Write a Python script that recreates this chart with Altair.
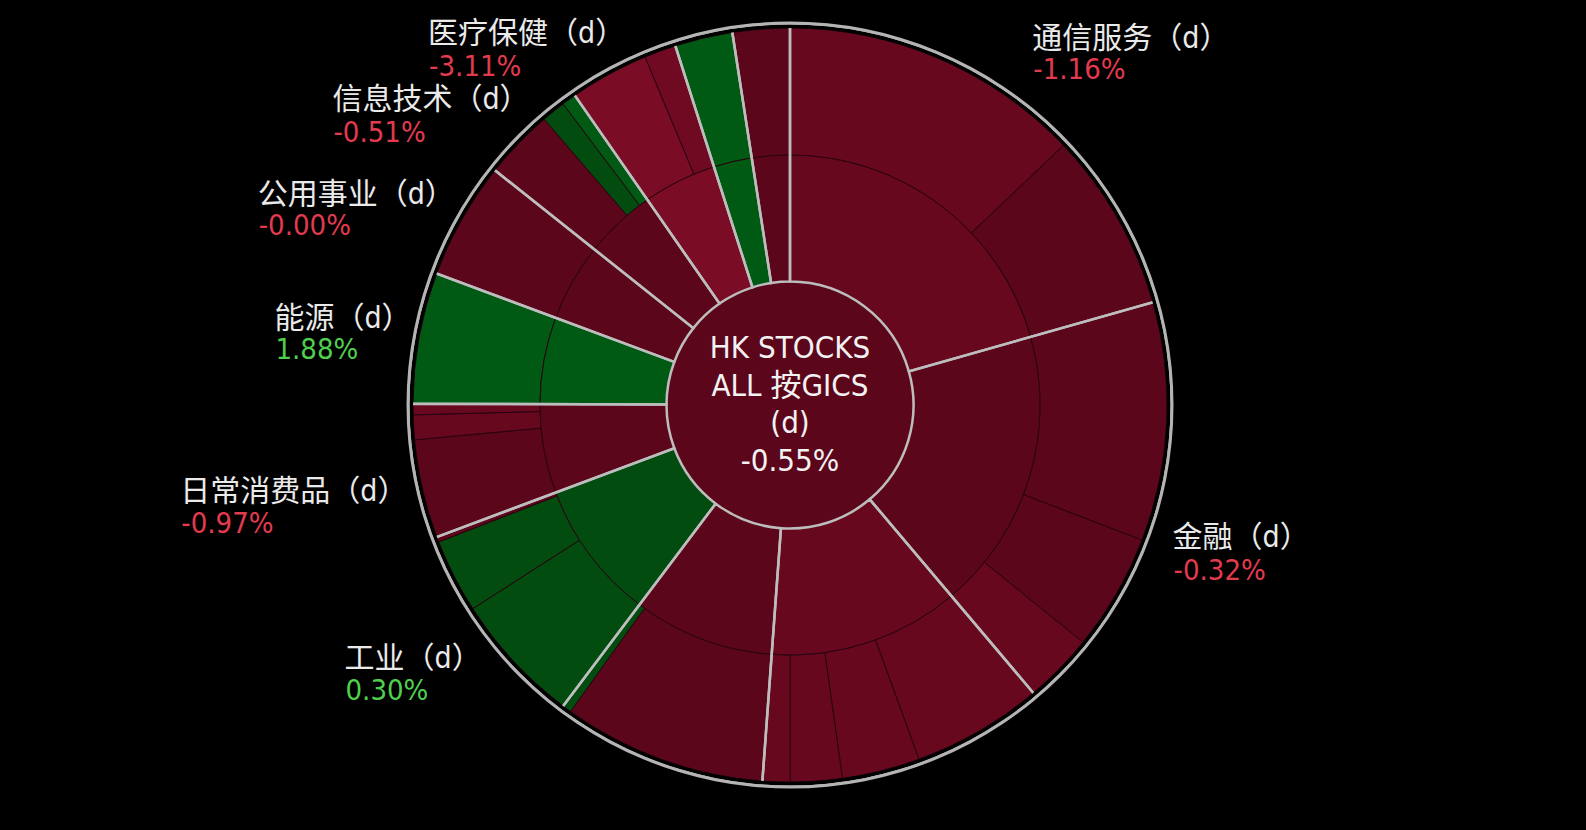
import math
import altair as alt
import pandas as pd

# ---------------- data ----------------
SECTORS = ["通信服务", "金融", "非必需消费品", "地产建筑", "工业", "日常消费品",
           "能源", "公用事业", "信息技术", "医疗保健", "原材料", "综合企业"]
SECTOR_CHG = [-1.16, -0.32, -1.05, -0.60, 0.30, -0.97, 1.88, -0.004, -0.51, -3.11, 2.50, -0.70]

CHILD_SECTOR = ["通信服务", "通信服务",
                "金融", "金融", "金融",
                "非必需消费品", "非必需消费品", "非必需消费品", "非必需消费品",
                "地产建筑", "地产建筑",
                "工业", "工业", "工业",
                "日常消费品", "日常消费品", "日常消费品",
                "能源", "公用事业",
                "信息技术", "信息技术", "信息技术",
                "医疗保健", "医疗保健",
                "原材料", "综合企业"]
CHILD_WEIGHT = [46.5, 27.7,
                36.8, 18.0, 10.8,
                20.2, 12.0, 8.0, 4.2,
                31.4, 1.4,
                20.3, 11.4, 0.8,
                15.2, 3.8, 1.7,
                20.2, 18.1,
                10.8, 3.7, 2.2,
                12.2, 4.9,
                8.9, 8.8]
CHILD_CHG = [-1.30, -0.90,
             -0.30, -0.60, -1.10,
             -1.40, -1.20, -1.10, -1.10,
             -0.60, 0.50,
             0.20, 0.60, -0.20,
             -0.90, -1.20, -1.30,
             1.88, -0.004,
             -0.70, 0.50, 1.20,
             -3.50, -2.00,
             2.50, -0.70]

LABELED = ["通信服务", "金融", "工业", "日常消费品", "能源", "公用事业", "信息技术", "医疗保健"]
TOTAL_TITLE = ["HK STOCKS", "ALL 按GICS", "(d)"]
TOTAL_CHG = -0.55

# ---------------- layout / style ----------------
CENTER_R = 123.5
RING1_R = 250
RING2_R = 377
LABEL_R = 400
# offsets of label text (left edge / line centre) from the polar anchor
LABEL_OFFSET = {
    "通信服务": (1, -47, -16),
    "金融": (0, 16, 49),
    "工业": (-125, 15, 47),
    "日常消费品": (-216, 17, 49),
    "能源": (-122, -14, 17),
    "公用事业": (-184, -13, 18),
    "信息技术": (-184, -13, 20),
    "医疗保健": (-185, -12, 21),
}
FONT = "DejaVu Sans Condensed, Noto Sans CJK SC"
RED_TXT = "#e23a4e"
GREEN_TXT = "#4ed04e"

# black page behind the chart
try:
    import altair.utils.html as _alt_html
    _orig_template = _alt_html.TEMPLATES["standard"]

    class _BlackPage:
        def render(self, **kw):
            return _orig_template.render(**kw).replace(
                "<head>", "<head>\n<style>html,body{background:#000000;}</style>", 1)

    _alt_html.TEMPLATES["standard"] = _BlackPage()
except Exception:
    pass

# ---------------- frames ----------------
child_df = pd.DataFrame({"sector": CHILD_SECTOR, "w": CHILD_WEIGHT, "chg": CHILD_CHG})
child_df["end"] = child_df["w"].cumsum()
child_df["start"] = child_df["end"] - child_df["w"]

sec_w = [sum(w for s, w in zip(CHILD_SECTOR, CHILD_WEIGHT) if s == name) for name in SECTORS]
sec_df = pd.DataFrame({"sector": SECTORS, "w": sec_w, "chg": SECTOR_CHG})
sec_df["end"] = sec_df["w"].cumsum()
sec_df["start"] = sec_df["end"] - sec_df["w"]
sec_df["mid"] = (sec_df["start"] + sec_df["end"]) / 2
sec_df["name_txt"] = sec_df["sector"] + "（d）"
sec_df["pct_txt"] = [f"{v:.2f}%" for v in SECTOR_CHG]

TOTAL = float(sec_df["w"].sum())
center_df = pd.DataFrame({"chg": [TOTAL_CHG]})

TH = alt.Scale(domain=[0, TOTAL], range=[0, 2 * math.pi])
COL = alt.Scale(type="threshold", domain=[-2.5, -1.5, -1.0, 0, 1.0],
                range=["#7a0c26", "#700a23", "#67081f", "#5c061b", "#024c10", "#005a14"])

ring2 = alt.Chart(child_df).mark_arc(
    radius=RING2_R, radius2=RING1_R, stroke="#2a0410", strokeWidth=1
).encode(
    theta=alt.Theta("start:Q", scale=TH), theta2="end:Q",
    color=alt.Color("chg:Q", scale=COL, legend=None),
)
ring1 = alt.Chart(sec_df).mark_arc(
    radius=RING1_R, radius2=CENTER_R, stroke="#2a0410", strokeWidth=1
).encode(
    theta=alt.Theta("start:Q", scale=TH), theta2="end:Q",
    color=alt.Color("chg:Q", scale=COL, legend=None),
)
center = alt.Chart(center_df).mark_arc(radius=CENTER_R, radius2=0).encode(
    theta=alt.value(0), theta2=alt.value(2 * math.pi),
    color=alt.Color("chg:Q", scale=COL, legend=None),
)
bounds = alt.Chart(sec_df).mark_arc(
    radius=381, radius2=CENTER_R, fillOpacity=0, stroke="#bdbdbd", strokeWidth=2.5
).encode(theta=alt.Theta("start:Q", scale=TH), theta2="end:Q")
mask = alt.Chart(center_df).mark_arc(radius=380.5, radius2=RING2_R, color="#000000").encode(
    theta=alt.value(0), theta2=alt.value(2 * math.pi))
border = alt.Chart(center_df).mark_arc(radius=383.5, radius2=380.5, color="#b4b4b4").encode(
    theta=alt.value(0), theta2=alt.value(2 * math.pi))

center_text = alt.Chart(center_df).mark_text(
    font=FONT, fontSize=31, color="#f2f2f2", lineHeight=37.5, baseline="middle",
    align="center", dy=-56
).encode(text=alt.value(TOTAL_TITLE + [f"{TOTAL_CHG:.2f}%"]))

layers = [ring2, ring1, center, bounds, mask, border, center_text]
for name in LABELED:
    dx, dy1, dy2 = LABEL_OFFSET[name]
    chg = SECTOR_CHG[SECTORS.index(name)]
    base = alt.Chart(sec_df).transform_filter(alt.datum.sector == name)
    layers.append(base.mark_text(
        radius=LABEL_R, dx=dx, dy=dy1, align="left", baseline="middle",
        font=FONT, fontSize=30, color="#eaeaea"
    ).encode(theta=alt.Theta("mid:Q", scale=TH), text="name_txt:N"))
    layers.append(base.mark_text(
        radius=LABEL_R, dx=dx + 1, dy=dy2, align="left", baseline="middle",
        font=FONT, fontSize=29, color=(GREEN_TXT if chg >= 0 else RED_TXT)
    ).encode(theta=alt.Theta("mid:Q", scale=TH), text="pct_txt:N"))

chart = alt.layer(*layers).properties(
    width=1564, height=794,
    autosize=alt.AutoSizeParams(type="none"), padding=0,
).configure(background="#000000").configure_view(strokeWidth=0)

chart.save("out.html", embed_options={"renderer": "svg", "actions": False})
